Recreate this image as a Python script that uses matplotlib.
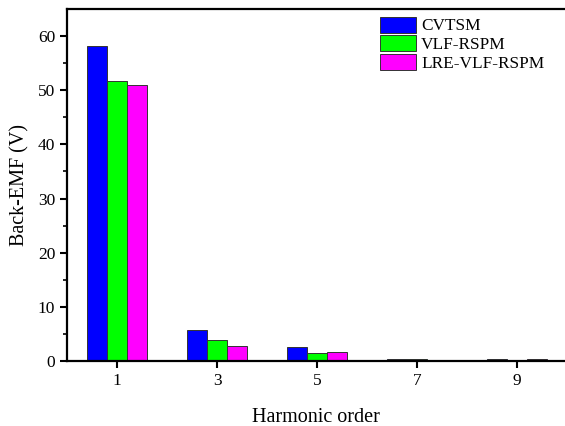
import numpy as np
import matplotlib.pyplot as plt

plt.rcParams['font.family'] = ['Liberation Serif', 'DejaVu Serif']

# --- data ---
orders = [1, 3, 5, 7, 9]
cvtsm = [58.1, 5.7, 2.5, 0.4, 0.35]
vlf_rspm = [51.7, 3.8, 1.5, 0.3, 0.2]
lre_vlf_rspm = [50.9, 2.8, 1.7, 0.2, 0.3]
series_names = ['CVTSM', 'VLF-RSPM', 'LRE-VLF-RSPM']
colors = ['#0000ff', '#00ff00', '#ff00ff']

fig = plt.figure(figsize=(5.65, 4.26), dpi=100)
ax = fig.add_axes([0.1186, 0.1526, 0.8814, 0.8263])

x = np.array(orders, dtype=float)
w = 0.4
for i, (vals, name, c) in enumerate(zip([cvtsm, vlf_rspm, lre_vlf_rspm], series_names, colors)):
    ax.bar(x + (i - 1) * w, vals, width=w, color=c, edgecolor='#333333',
           linewidth=0.7, label=name)

ax.set_xlim(0, 9.96)
ax.set_ylim(0, 65)
ax.set_xticks(orders)
ax.set_yticks(range(0, 61, 10))
ax.set_yticks(range(5, 61, 10), minor=True)

for s in ['left', 'bottom', 'top']:
    ax.spines[s].set_linewidth(1.6)
ax.spines['right'].set_visible(False)

ax.tick_params(axis='both', which='major', direction='out', length=5, width=1.5,
               labelsize=12.5, top=False, right=False)
ax.tick_params(axis='y', which='minor', direction='out', length=3, width=1.2)

ax.set_xlabel('Harmonic order', fontsize=14.5, labelpad=14)
ax.set_ylabel('Back-EMF (V)', fontsize=14.5, labelpad=6)

ax.legend(loc='upper left', bbox_to_anchor=(0.672, 0.961), bbox_transform=fig.transFigure,
          frameon=False, fontsize=12.4, handlelength=2.1, handleheight=1.05,
          labelspacing=0.05, handletextpad=0.3, borderpad=0, borderaxespad=0)

fig.savefig('out.png', dpi=100)
